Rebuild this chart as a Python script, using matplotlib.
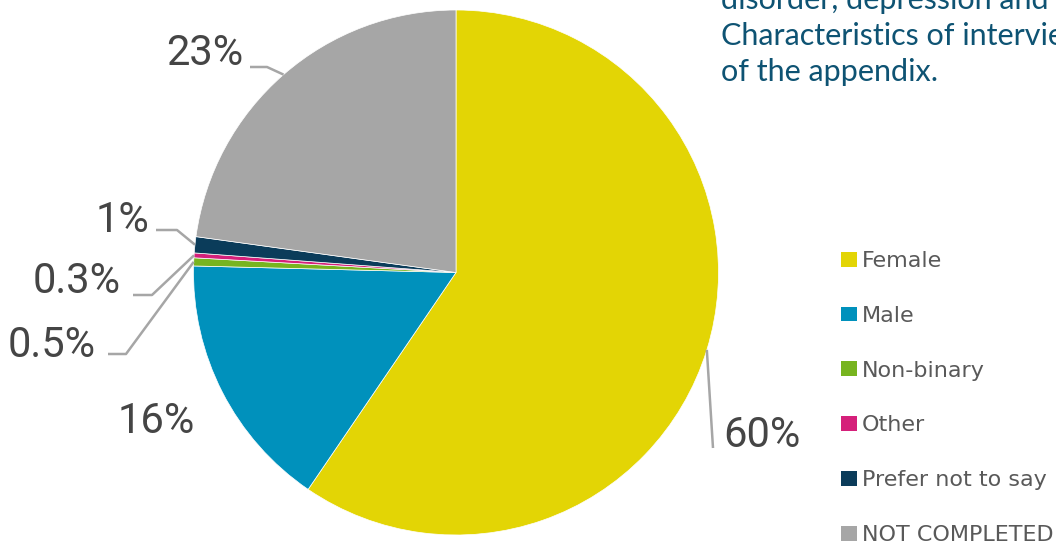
import matplotlib
matplotlib.use("Agg")
import matplotlib.pyplot as plt
import numpy as np

# Gender of respondents (percent of all responses)
categories = ["Female", "Male", "Non-binary", "Other", "Prefer not to say", "NOT COMPLETED"]
shares = [60, 16, 0.5, 0.3, 1, 23]
colors = ["#E3D505", "#0091BC", "#77B41F", "#D5207A", "#0B3C5A", "#A6A6A6"]

note_lines = [
    "disorder, depression and anxiety",
    "Characteristics of interviewees",
    "of the appendix.",
]

W, H = 1056, 544
CX, CY, R = 456.0, 272.5, 262.5   # pie centre and radius in pixels


def to_data(px, py):
    """Pixel position (from top-left) -> data coordinates of the pie axes."""
    return (px - CX) / R, (CY - py) / R


fig = plt.figure(figsize=(W / 100, H / 100), dpi=100)
ax = fig.add_axes([0, 0, 1, 1])

wedges, _ = ax.pie(
    shares,
    colors=colors,
    startangle=90,
    counterclock=False,
    radius=1.0,
    wedgeprops=dict(edgecolor="white", linewidth=0.5),
)
ax.set_xlim(to_data(0, 0)[0], to_data(W, 0)[0])
ax.set_ylim(to_data(0, H)[1], to_data(0, 0)[1])
ax.set_aspect("equal", adjustable="datalim")
ax.axis("off")

# Percentage labels: (anchor x, baseline y, ha, leader points from text towards the pie)
label_layout = [
    (723, 447, "left", [(713, 448)]),
    (195, 433, "right", []),
    (96, 357, "right", [(108, 354), (126, 354)]),
    (121, 293, "right", [(133, 295), (152, 295)]),
    (149, 232, "right", [(156, 230), (177, 230)]),
    (243, 65, "right", [(250, 67), (267, 67)]),
]

label_font = ["Roboto", "DejaVu Sans"]
lead_color = "#A6A6A6"

for w, v, (tx, ty, ha, pts) in zip(wedges, shares, label_layout):
    x, y = to_data(tx, ty)
    ax.text(x, y, f"{v:g}%", ha=ha, va="baseline", fontsize=30,
            fontweight="normal", color="#454545", family=label_font)
    if pts:
        mid = np.deg2rad((w.theta1 + w.theta2) / 2)
        edge = (np.cos(mid), np.sin(mid))
        xs = [to_data(*p)[0] for p in pts] + [edge[0]]
        ys = [to_data(*p)[1] for p in pts] + [edge[1]]
        ax.plot(xs, ys, color=lead_color, lw=1.8, solid_capstyle="butt")

# Legend
leg = ax.legend(
    wedges, categories,
    loc="upper left",
    bbox_to_anchor=(841 / W, 1 - 251 / H),
    bbox_transform=fig.transFigure,
    frameon=False,
    prop=dict(family="DejaVu Sans", size=16),
    handlelength=0.7,
    handleheight=0.64,
    handletextpad=0.25,
    labelspacing=1.567,
    borderpad=0,
    borderaxespad=0,
)
for t in leg.get_texts():
    t.set_color("#595959")
for h in leg.legend_handles:
    h.set_edgecolor("none")

# Note text at the top right, running off the edge
for i, line in enumerate(note_lines):
    fig.text(721 / W, 1 - (9 + 36 * i) / H, line, ha="left", va="baseline",
             fontsize=22, color="#0E5373", family=["Lato", "DejaVu Sans"])

fig.savefig("out.png", dpi=100)
